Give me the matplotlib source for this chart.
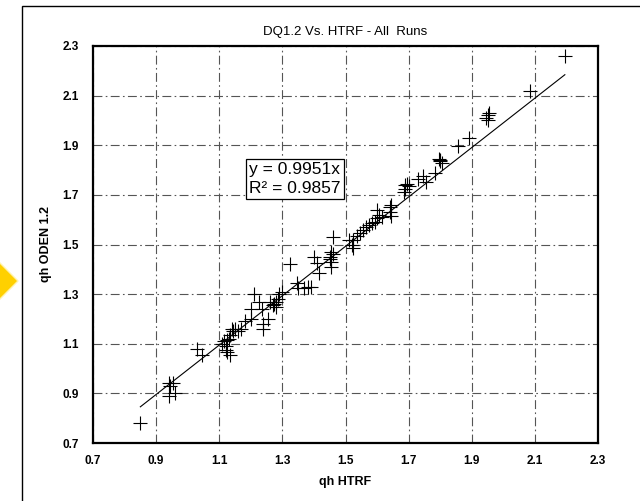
import matplotlib.pyplot as plt
import numpy as np
from matplotlib.patches import Rectangle, Polygon

plt.rcParams['font.family'] = ['Liberation Sans', 'DejaVu Sans']

# qh HTRF values (x) and qh ODEN 1.2 values (y)
qh_htrf = [0.85,
           0.94, 0.945, 0.94, 0.96, 0.955,
           1.03, 1.045,
           1.12, 1.125, 1.135, 1.11, 1.115, 1.125, 1.135, 1.14, 1.145, 1.15, 1.16, 1.17, 1.13, 1.12,
           1.18, 1.20, 1.20, 1.21, 1.225, 1.235, 1.24, 1.24, 1.255, 1.26, 1.27, 1.275, 1.28, 1.285,
           1.29, 1.30, 1.28,
           1.325, 1.345, 1.35, 1.37, 1.38, 1.39,
           1.40, 1.41, 1.415, 1.45, 1.455, 1.455, 1.46, 1.46, 1.455, 1.45,
           1.51, 1.52, 1.525, 1.525, 1.535, 1.545, 1.555, 1.565, 1.575, 1.585, 1.595, 1.60, 1.605,
           1.60, 1.615, 1.64, 1.64, 1.645, 1.645,
           1.685, 1.69, 1.69, 1.695, 1.70,
           1.73, 1.745, 1.755, 1.785, 1.795, 1.80, 1.805, 1.80,
           1.855, 1.89,
           1.95, 1.95, 1.955, 1.945,
           2.085, 2.195]
qh_oden = [0.78,
           0.94, 0.93, 0.89, 0.90, 0.94,
           1.08, 1.055,
           1.075, 1.065, 1.055, 1.10, 1.11, 1.115, 1.135, 1.16, 1.15, 1.16, 1.15, 1.16, 1.12, 1.09,
           1.19, 1.20, 1.24, 1.30, 1.27, 1.24, 1.18, 1.16, 1.20, 1.27, 1.255, 1.26, 1.27, 1.28,
           1.30, 1.31, 1.25,
           1.42, 1.345, 1.325, 1.325, 1.33, 1.33,
           1.45, 1.425, 1.385, 1.45, 1.43, 1.41, 1.46, 1.53, 1.47, 1.44,
           1.52, 1.50, 1.485, 1.52, 1.535, 1.545, 1.56, 1.57, 1.58, 1.585, 1.59, 1.605, 1.62,
           1.64, 1.61, 1.65, 1.63, 1.615, 1.66,
           1.71, 1.725, 1.74, 1.745, 1.735,
           1.765, 1.775, 1.75, 1.79, 1.845, 1.835, 1.83, 1.84,
           1.895, 1.93,
           2.02, 2.00, 2.03, 2.01,
           2.12, 2.26]

slope = 0.9951
r2 = 0.9857
ticks = [0.7, 0.9, 1.1, 1.3, 1.5, 1.7, 1.9, 2.1, 2.3]

fig = plt.figure(figsize=(6.4, 5.01), dpi=100)
ax = fig.add_axes([93 / 640, 58 / 501, 505 / 640, 397 / 501])

# outer frame and the yellow marker at the left edge (decoration)
fig.patches.append(Rectangle((22 / 640, -0.1), 1.2, (501 - 6) / 501 + 0.1,
                             transform=fig.transFigure, fill=False,
                             edgecolor='black', linewidth=1.0))
fig.patches.append(Polygon([(-20 / 640, (501 - 243) / 501), (18 / 640, (501 - 281) / 501),
                            (-20 / 640, (501 - 319) / 501)], closed=True,
                           transform=fig.transFigure, facecolor='#FFD000',
                           edgecolor='#FFF3B0', linewidth=1.0))

x = np.array(qh_htrf)
y = np.array(qh_oden)
ax.plot(x, y, linestyle='none', marker='+', markersize=10.5, markeredgewidth=0.8,
        color='black', zorder=3)

xl = np.array([x.min(), x.max()])
ax.plot(xl, slope * xl, color='black', linewidth=0.8, zorder=2)

ax.set_xlim(0.7, 2.3)
ax.set_ylim(0.7, 2.3)
ax.set_xticks(ticks)
ax.set_yticks(ticks)
ax.set_xticklabels([f'{t:.1f}' for t in ticks], fontweight='bold', fontsize=8.5)
ax.set_yticklabels([f'{t:.1f}' for t in ticks], fontweight='bold', fontsize=8.5)
ax.tick_params(axis='x', length=0, pad=9)
ax.tick_params(axis='y', length=0, pad=10)
ax.grid(True, color='#555555', linestyle='-.', linewidth=0.8, dashes=(8, 3, 1.5, 3))
for s in ax.spines.values():
    s.set_linewidth(1.6)
    s.set_zorder(4)

ax.set_xlabel('qh HTRF', fontweight='bold', fontsize=9, labelpad=6)
ax.set_ylabel('qh ODEN 1.2', fontweight='bold', fontsize=9, labelpad=8)
ax.set_title('DQ1.2 Vs. HTRF - All  Runs', fontsize=9.5, pad=8)

ax.text(1.195, 1.765, f'y = {slope}x\nR\u00b2 = {r2}', fontsize=12.5, va='center', ha='left',
        linespacing=1.3,
        bbox=dict(boxstyle='square,pad=0.18', facecolor='white', edgecolor='black', linewidth=0.9),
        zorder=5)

fig.savefig('out.png', dpi=100)
